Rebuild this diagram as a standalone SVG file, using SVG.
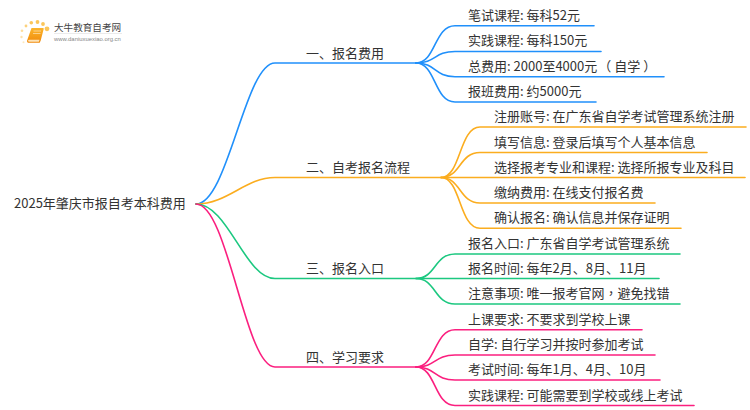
<svg xmlns="http://www.w3.org/2000/svg" width="750" height="410" viewBox="0 0 750 410">
<style>
text{font-family:"Noto Sans CJK SC","Noto Sans",sans-serif;font-size:13px;fill:#333;text-spacing-trim:space-all}
.tc{font-family:"Noto Sans CJK TC","Noto Sans",sans-serif}
#connectors path{fill:none;stroke-width:1.6;stroke-linecap:round}
.b{stroke:#2090fb}.o{stroke:#fbad1f}.g{stroke:#1cc880}.p{stroke:#fb1f7f}
</style>
<defs><linearGradient id="bk" x1="0" y1="0" x2="0" y2="1"><stop offset="0" stop-color="#fbb52c"/><stop offset="1" stop-color="#f08a0c"/></linearGradient></defs>
<rect width="750" height="410" fill="#fff"/>
<g id="logo">
<g fill="#fbc65a"><circle cx="47" cy="28.800" r="2.400"/><circle cx="43" cy="24" r="1.900"/><circle cx="37.500" cy="22" r="1.900"/><circle cx="31.300" cy="22.800" r="1.800"/><circle cx="26" cy="26" r="1.400" opacity=".8"/><circle cx="22" cy="30.800" r="1.300" opacity=".6"/><circle cx="21.500" cy="37" r="1.200" opacity=".5"/><circle cx="23.500" cy="42.300" r="1" opacity=".4"/></g>
<path d="M31.500 28h11.500q1 0 .7 1l-3 11.500-1 2.300H29q-2.300 0-1.900-2.300z" fill="url(#bk)"/>
<path d="M28 41q0-1.200 1.500-1.200h10l-.6 2H29.500q-1.500 0-1.500-.8z" fill="#fde3b8"/>
<path d="M33.500 31h7.500M33 33.500h7.500" stroke="#fde3b8" stroke-width=".7"/>
<text x="54" y="31" style="font-size:9.600px;fill:#444">大牛教育自考网</text>
<path d="M54 33.500h68" stroke="#ddd" stroke-width=".6"/>
<text x="54" y="41" style="font-size:5.900px;fill:#888;font-family:'Liberation Sans',sans-serif">www.daniuxuexiao.org.cn</text>
</g>
<g id="connectors">
<path class="b" d="M196 204C228 204 245 63 275 63H416"/>
<path class="o" d="M196 204C228 204 245 177.500 275 177.500H441"/>
<path class="g" d="M196 204C228 204 245 278.500 275 278.500H416"/>
<path class="p" d="M196 204C228 204 245 367 275 367H416"/>
<path class="b" d="M416 63C436 63 434 25.700 455 25.700H594"/>
<path class="b" d="M416 63C436 63 434 51.500 455 51.500H601"/>
<path class="b" d="M416 63C436 63 434 76.700 455 76.700H664"/>
<path class="b" d="M416 63C436 63 434 102 455 102H596"/>
<path class="o" d="M441 177.500C461 177.500 459 127 480 127H746"/>
<path class="o" d="M441 177.500C461 177.500 459 152.500 480 152.500H707"/>
<path class="o" d="M441 177.500H745"/>
<path class="o" d="M441 177.500C461 177.500 459 203 480 203H655"/>
<path class="o" d="M441 177.500C461 177.500 459 228.300 480 228.300H681"/>
<path class="g" d="M416 278.500C436 278.500 434 254 455 254H680"/>
<path class="g" d="M416 278.500H659"/>
<path class="g" d="M416 278.500C436 278.500 434 304 455 304H680"/>
<path class="p" d="M416 367C436 367 434 329.700 455 329.700H642"/>
<path class="p" d="M416 367C436 367 434 355 455 355H655"/>
<path class="p" d="M416 367C436 367 434 380 455 380H660"/>
<path class="p" d="M416 367C436 367 434 405.500 455 405.500H694"/>
</g>
<g id="root"><text x="14" y="208">2025年肇庆市报自考本科费用</text></g>
<g id="b1"><text x="306" y="58">一、报名费用</text></g>
<g id="b2"><text x="306" y="172">二、自考报名流程</text></g>
<g id="b3"><text x="306" y="273">三、报名入口</text></g>
<g id="b4"><text x="306" y="362">四、学习要求</text></g>
<g id="n11"><text x="468" y="20">笔试课程: 每科52元</text></g>
<g id="n12"><text x="468" y="45">实践课程: 每科150元</text></g>
<g id="n13"><text x="468" y="71">总费用: 2000至4000元<tspan dx="1">（</tspan><tspan dx="3">自学</tspan><tspan dx="3">）</tspan></text></g>
<g id="n14"><text x="468" y="96">报班费用: 约5000元</text></g>
<g id="n21"><text x="494" y="121">注册账号: 在广东省自学考试管理系统注册</text></g>
<g id="n22"><text x="494" y="147">填写信息: 登录后填写个人基本信息</text></g>
<g id="n23"><text x="494" y="172">选择报考专业和课程: 选择所报专业及科目</text></g>
<g id="n24"><text x="494" y="197">缴纳费用: 在线支付报名费</text></g>
<g id="n25"><text x="494" y="222">确认报名: 确认信息并保存证明</text></g>
<g id="n31"><text x="468" y="248">报名入口: 广东省自学考试管理系统</text></g>
<g id="n32"><text x="468" y="273">报名时间: 每年2月、8月、11月</text></g>
<g id="n33"><text x="468" y="298">注意事项: 唯一报考官网<tspan class="tc">，</tspan>避免找错</text></g>
<g id="n41"><text x="468" y="324">上课要求: 不要求到学校上课</text></g>
<g id="n42"><text x="468" y="349">自学: 自行学习并按时参加考试</text></g>
<g id="n43"><text x="468" y="374">考试时间: 每年1月、4月、10月</text></g>
<g id="n44"><text x="468" y="400">实践课程: 可能需要到学校或线上考试</text></g>
</svg>
